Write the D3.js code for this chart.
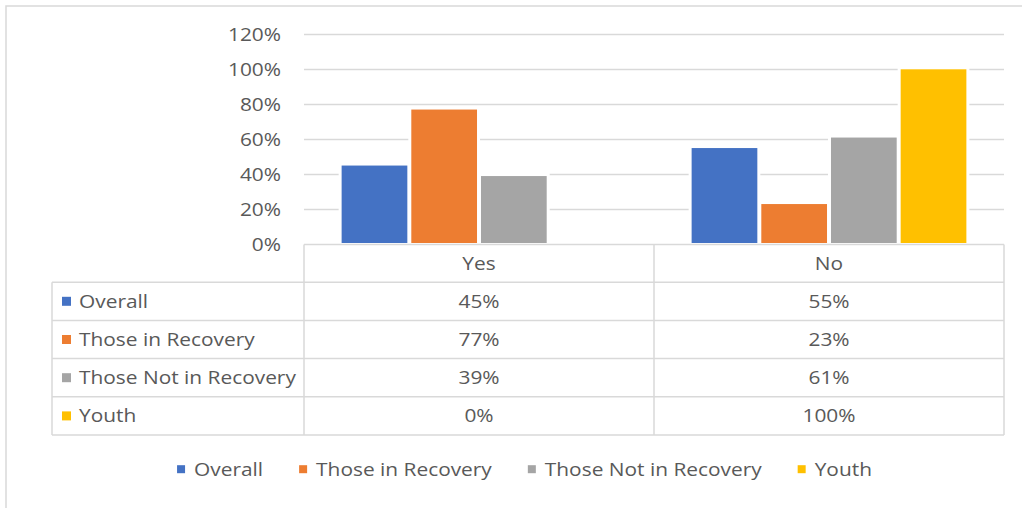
<!DOCTYPE html>
<html>
<head>
<meta charset="utf-8">
<script src="https://cdn.jsdelivr.net/npm/d3@7"></script>
<style>
  html, body { margin: 0; padding: 0; background: #fff; }
  svg { display: block; }
  text { font-family: "Open Sans", "Noto Sans", sans-serif; fill: #595959; }
</style>
</head>
<body>
<svg id="chart" width="1022" height="508"></svg>
<script>
// Survey answers by group
const categories = ["Yes", "No"];
const seriesNames = ["Overall", "Those in Recovery", "Those Not in Recovery", "Youth"];
const overall = [0.45, 0.55];
const inRecovery = [0.77, 0.23];
const notInRecovery = [0.39, 0.61];
const youth = [0.00, 1.00];
const yTicks = [0, 0.2, 0.4, 0.6, 0.8, 1.0, 1.2];
const colors = ["#4472C4", "#ED7D31", "#A5A5A5", "#FFC000"];

const seriesValues = [overall, inRecovery, notInRecovery, youth];
const series = seriesNames.map((name, i) => ({ name, color: colors[i], values: seriesValues[i] }));

const FONT = 18;      // font size
const SX = 1.16;      // horizontal text stretch
const GRID = "#d9d9d9";
const fmt = d3.format(".0%");

const svg = d3.select("#chart");

// helper: stretched text placed at (x, y)
function label(g, x, y, str, anchor) {
  return g.append("text")
    .attr("transform", `translate(${x},${y}) scale(${SX},1)`)
    .attr("text-anchor", anchor || "start")
    .attr("font-size", FONT)
    .text(str);
}

// chart area border
svg.append("rect")
  .attr("x", 6).attr("y", 6)
  .attr("width", 1100).attr("height", 600)
  .attr("fill", "#fff").attr("stroke", GRID).attr("stroke-width", 1.5);

const plot = { left: 304, right: 1004, top: 34.3, bottom: 244.3 };

const y = d3.scaleLinear().domain([0, 1.2]).range([plot.bottom, plot.top]);
const x0 = d3.scaleBand().domain(categories).range([plot.left, plot.right]).padding(0);
const x1 = d3.scaleBand().domain(seriesNames).range([0, x0.bandwidth()])
  .paddingInner(0.057).paddingOuter(0.54);

// gridlines
svg.append("g").selectAll("line")
  .data(yTicks.filter(t => t > 0))
  .join("line")
  .attr("x1", plot.left).attr("x2", plot.right)
  .attr("y1", d => Math.round(y(d)) + 0.5).attr("y2", d => Math.round(y(d)) + 0.5)
  .attr("stroke", GRID).attr("stroke-width", 1.5);

// y-axis tick labels
const yLab = svg.append("g");
yTicks.forEach(t => label(yLab, 281, y(t) + 6.5, fmt(t), "end"));

// bars
const bars = [];
series.forEach(s => categories.forEach((c, ci) => {
  bars.push({ series: s.name, color: s.color, cat: c, value: s.values[ci] });
}));
const barG = svg.append("g");
const visible = bars.filter(d => d.value > 0);
// white outline around each bar
barG.selectAll("rect.halo").data(visible).join("rect")
  .attr("class", "halo")
  .attr("x", d => x0(d.cat) + x1(d.series) - 3)
  .attr("y", d => y(d.value) - 3)
  .attr("width", x1.bandwidth() + 6)
  .attr("height", d => y(0) - y(d.value) + 1)
  .attr("fill", "#fff");
barG.selectAll("rect.bar").data(visible).join("rect")
  .attr("class", "bar")
  .attr("x", d => x0(d.cat) + x1(d.series))
  .attr("y", d => y(d.value))
  .attr("width", x1.bandwidth())
  .attr("height", d => y(0) - y(d.value) - 1.3)
  .attr("fill", d => d.color);

// data table
const rowTop = 244.5, headerH = 37.7, rowH = 38.2, tableLeft = 52;
const rowY = i => rowTop + headerH + i * rowH;
const tableBottom = rowY(series.length);
const tg = svg.append("g").attr("stroke", GRID).attr("stroke-width", 1.5);
// category axis line / header top
tg.append("line").attr("x1", plot.left).attr("x2", plot.right).attr("y1", rowTop).attr("y2", rowTop);
// row separators
d3.range(series.length + 1).forEach(i => {
  tg.append("line").attr("x1", tableLeft).attr("x2", plot.right)
    .attr("y1", rowY(i)).attr("y2", rowY(i));
});
// verticals
[plot.left, plot.left + x0.bandwidth(), plot.right].forEach(xv => {
  tg.append("line").attr("x1", xv).attr("x2", xv).attr("y1", rowTop).attr("y2", tableBottom);
});
tg.append("line").attr("x1", tableLeft).attr("x2", tableLeft).attr("y1", rowY(0)).attr("y2", tableBottom);

const tt = svg.append("g");
// header labels
categories.forEach(c => label(tt, x0(c) + x0.bandwidth() / 2, rowTop + headerH / 2 + 6.5, c, "middle"));
// rows
series.forEach((s, i) => {
  const cy = rowY(i) + rowH / 2;
  tt.append("rect").attr("x", 62).attr("y", cy - 4.5).attr("width", 9).attr("height", 9).attr("fill", s.color);
  label(tt, 79, cy + 6.5, s.name, "start");
  categories.forEach((c, ci) => label(tt, x0(c) + x0.bandwidth() / 2, cy + 6.5, fmt(s.values[ci]), "middle"));
});

// legend
const lg = svg.append("g");
const legendY = 475.7, sq = 8, sqGap = 9, itemGap = 36;
const items = series.map(s => {
  const t = label(lg, 0, legendY, s.name, "start");
  return { s, t, w: t.node().getComputedTextLength() * SX };
});
const total = d3.sum(items, d => sq + sqGap + d.w) + itemGap * (items.length - 1);
let cx = 524.5 - total / 2;
items.forEach(d => {
  lg.append("rect").attr("x", cx).attr("y", legendY - 6.5 - sq / 2).attr("width", sq).attr("height", sq).attr("fill", d.s.color);
  d.t.attr("transform", `translate(${cx + sq + sqGap},${legendY}) scale(${SX},1)`);
  cx += sq + sqGap + d.w + itemGap;
});
</script>
</body>
</html>
